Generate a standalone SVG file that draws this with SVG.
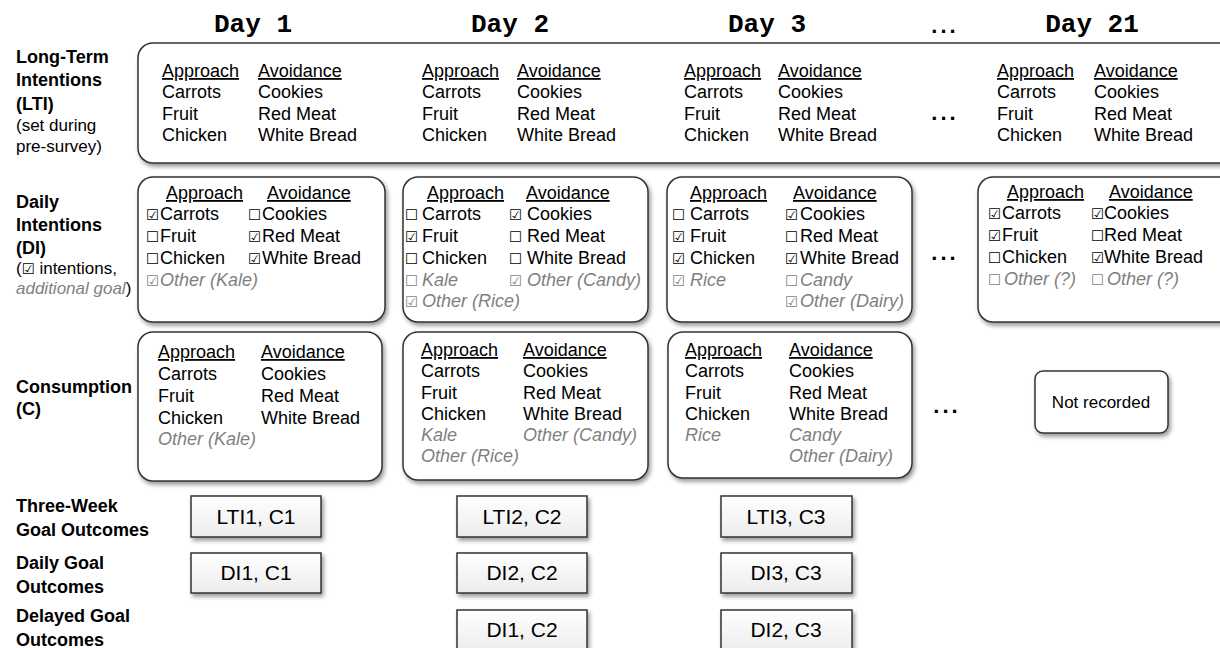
<svg xmlns="http://www.w3.org/2000/svg" width="1220" height="648" viewBox="0 0 1220 648">
<style>
text{font-family:"Liberation Sans",Arial,sans-serif;font-size:18px;fill:#000}
.u{text-decoration:underline}
.g{fill:#7f7f7f;font-style:italic}
.cb{font-family:"DejaVu Sans",sans-serif;font-size:14.5px}
.cbg{font-family:"DejaVu Sans",sans-serif;font-size:14.5px;fill:#7f7f7f}
.lab{font-weight:bold;font-size:18px}
.sm{font-size:17px}
.day{font-family:"Liberation Mono","Courier New",monospace;font-weight:bold;font-size:26px}
.dots{font-weight:bold;font-size:22px;letter-spacing:3px}
.out{font-size:21px}
.nr{font-size:17px}
.box{fill:#fff;stroke:#333;stroke-width:1.5;filter:url(#sh)}
.ob{fill:url(#gr);stroke:#333;stroke-width:1.5;filter:url(#sh)}
</style>
<defs>
<filter id="sh" x="-10%" y="-10%" width="130%" height="130%">
<feDropShadow dx="2" dy="3" stdDeviation="2" flood-color="#000" flood-opacity="0.4"/>
</filter>
<linearGradient id="gr" x1="0" y1="0" x2="0" y2="1">
<stop offset="0" stop-color="#ffffff"/>
<stop offset="1" stop-color="#ececec"/>
</linearGradient>
</defs>
<rect width="1220" height="648" fill="#fff"/>

<g id="headers">
<text class="day" x="253" y="32" text-anchor="middle">Day 1</text>
<text class="day" x="510" y="32" text-anchor="middle">Day 2</text>
<text class="day" x="767" y="32" text-anchor="middle">Day 3</text>
<text class="dots" x="945" y="33" text-anchor="middle">...</text>
<text class="day" x="1092" y="32" text-anchor="middle">Day 21</text>
</g>

<g id="row-labels">
<text class="lab" x="16" y="63">Long-Term</text>
<text class="lab" x="16" y="86">Intentions</text>
<text class="lab" x="16" y="110">(LTI)</text>
<text class="sm" x="16" y="131">(set during</text>
<text class="sm" x="16" y="152">pre-survey)</text>
<text class="lab" x="16" y="208">Daily</text>
<text class="lab" x="16" y="231">Intentions</text>
<text class="lab" x="16" y="254">(DI)</text>
<text class="sm" x="16" y="274">(<tspan class="cb">☑</tspan> intentions,</text>
<text class="sm" x="16" y="294"><tspan class="g">additional goal</tspan>)</text>
<text class="lab" x="16" y="393">Consumption</text>
<text class="lab" x="16" y="415">(C)</text>
<text class="lab" x="16" y="512">Three-Week</text>
<text class="lab" x="16" y="536">Goal Outcomes</text>
<text class="lab" x="16" y="569">Daily Goal</text>
<text class="lab" x="16" y="593">Outcomes</text>
<text class="lab" x="16" y="622">Delayed Goal</text>
<text class="lab" x="16" y="646">Outcomes</text>
</g>

<g id="lti">
<rect class="box" x="138" y="43" width="1100" height="120" rx="15"/>
<text class="u" x="162" y="77">Approach</text><text class="u" x="258" y="77">Avoidance</text>
<text x="162" y="98">Carrots</text><text x="258" y="98">Cookies</text>
<text x="162" y="120">Fruit</text><text x="258" y="120">Red Meat</text>
<text x="162" y="141">Chicken</text><text x="258" y="141">White Bread</text>
<text class="u" x="422" y="77">Approach</text><text class="u" x="517" y="77">Avoidance</text>
<text x="422" y="98">Carrots</text><text x="517" y="98">Cookies</text>
<text x="422" y="120">Fruit</text><text x="517" y="120">Red Meat</text>
<text x="422" y="141">Chicken</text><text x="517" y="141">White Bread</text>
<text class="u" x="684" y="77">Approach</text><text class="u" x="778" y="77">Avoidance</text>
<text x="684" y="98">Carrots</text><text x="778" y="98">Cookies</text>
<text x="684" y="120">Fruit</text><text x="778" y="120">Red Meat</text>
<text x="684" y="141">Chicken</text><text x="778" y="141">White Bread</text>
<text class="dots" x="945" y="120" text-anchor="middle">...</text>
<text class="u" x="997" y="77">Approach</text><text class="u" x="1094" y="77">Avoidance</text>
<text x="997" y="98">Carrots</text><text x="1094" y="98">Cookies</text>
<text x="997" y="120">Fruit</text><text x="1094" y="120">Red Meat</text>
<text x="997" y="141">Chicken</text><text x="1094" y="141">White Bread</text>
</g>

<g id="di-day1">
<rect class="box" x="138" y="177" width="247" height="145" rx="15"/>
<text class="u" x="166" y="199">Approach</text><text class="u" x="267" y="199">Avoidance</text>
<text class="cb" x="146" y="220">☑</text><text x="160" y="220">Carrots</text>
<text class="cb" x="248" y="220">☐</text><text x="262" y="220">Cookies</text>
<text class="cb" x="146" y="242">☐</text><text x="160" y="242">Fruit</text>
<text class="cb" x="248" y="242">☑</text><text x="262" y="242">Red Meat</text>
<text class="cb" x="146" y="264">☐</text><text x="160" y="264">Chicken</text>
<text class="cb" x="248" y="264">☑</text><text x="262" y="264">White Bread</text>
<text class="cbg" x="146" y="286">☑</text><text class="g" x="160" y="286">Other (Kale)</text>
</g>

<g id="di-day2">
<rect class="box" x="403" y="177" width="245" height="145" rx="15"/>
<text class="u" x="427" y="199">Approach</text><text class="u" x="526" y="199">Avoidance</text>
<text class="cb" x="405" y="220">☐</text><text x="422" y="220">Carrots</text>
<text class="cb" x="509" y="220">☑</text><text x="527" y="220">Cookies</text>
<text class="cb" x="405" y="242">☑</text><text x="422" y="242">Fruit</text>
<text class="cb" x="509" y="242">☐</text><text x="527" y="242">Red Meat</text>
<text class="cb" x="405" y="264">☐</text><text x="422" y="264">Chicken</text>
<text class="cb" x="509" y="264">☐</text><text x="527" y="264">White Bread</text>
<text class="cbg" x="405" y="286">☐</text><text class="g" x="422" y="286">Kale</text>
<text class="cbg" x="509" y="286">☑</text><text class="g" x="527" y="286">Other (Candy)</text>
<text class="cbg" x="405" y="307">☑</text><text class="g" x="422" y="307">Other (Rice)</text>
</g>

<g id="di-day3">
<rect class="box" x="667" y="177" width="245" height="145" rx="15"/>
<text class="u" x="690" y="199">Approach</text><text class="u" x="793" y="199">Avoidance</text>
<text class="cb" x="672" y="220">☐</text><text x="690" y="220">Carrots</text>
<text class="cb" x="785" y="220">☑</text><text x="800" y="220">Cookies</text>
<text class="cb" x="672" y="242">☑</text><text x="690" y="242">Fruit</text>
<text class="cb" x="785" y="242">☐</text><text x="800" y="242">Red Meat</text>
<text class="cb" x="672" y="264">☑</text><text x="690" y="264">Chicken</text>
<text class="cb" x="785" y="264">☑</text><text x="800" y="264">White Bread</text>
<text class="cbg" x="672" y="286">☑</text><text class="g" x="690" y="286">Rice</text>
<text class="cbg" x="785" y="286">☐</text><text class="g" x="800" y="286">Candy</text>
<text class="cbg" x="785" y="307">☑</text><text class="g" x="800" y="307">Other (Dairy)</text>
</g>

<g id="di-dots"><text class="dots" x="945" y="260" text-anchor="middle">...</text></g>

<g id="di-day21">
<rect class="box" x="978" y="177" width="260" height="145" rx="15"/>
<text class="u" x="1007" y="198">Approach</text><text class="u" x="1109" y="198">Avoidance</text>
<text class="cb" x="988" y="219">☑</text><text x="1002" y="219">Carrots</text>
<text class="cb" x="1091" y="219">☑</text><text x="1104" y="219">Cookies</text>
<text class="cb" x="988" y="241">☑</text><text x="1002" y="241">Fruit</text>
<text class="cb" x="1091" y="241">☐</text><text x="1104" y="241">Red Meat</text>
<text class="cb" x="988" y="263">☐</text><text x="1002" y="263">Chicken</text>
<text class="cb" x="1091" y="263">☑</text><text x="1104" y="263">White Bread</text>
<text class="cbg" x="988" y="285">☐</text><text class="g" x="1004" y="285">Other (?)</text>
<text class="cbg" x="1091" y="285">☐</text><text class="g" x="1107" y="285">Other (?)</text>
</g>

<g id="c-day1">
<rect class="box" x="138" y="332" width="244" height="149" rx="15"/>
<text class="u" x="158" y="358">Approach</text><text class="u" x="261" y="358">Avoidance</text>
<text x="158" y="380">Carrots</text><text x="261" y="380">Cookies</text>
<text x="158" y="402">Fruit</text><text x="261" y="402">Red Meat</text>
<text x="158" y="424">Chicken</text><text x="261" y="424">White Bread</text>
<text class="g" x="158" y="445">Other (Kale)</text>
</g>

<g id="c-day2">
<rect class="box" x="403" y="332" width="245" height="148" rx="15"/>
<text class="u" x="421" y="356">Approach</text><text class="u" x="523" y="356">Avoidance</text>
<text x="421" y="377">Carrots</text><text x="523" y="377">Cookies</text>
<text x="421" y="399">Fruit</text><text x="523" y="399">Red Meat</text>
<text x="421" y="420">Chicken</text><text x="523" y="420">White Bread</text>
<text class="g" x="421" y="441">Kale</text><text class="g" x="523" y="441">Other (Candy)</text>
<text class="g" x="421" y="462">Other (Rice)</text>
</g>

<g id="c-day3">
<rect class="box" x="668" y="332" width="244" height="146" rx="15"/>
<text class="u" x="685" y="356">Approach</text><text class="u" x="789" y="356">Avoidance</text>
<text x="685" y="377">Carrots</text><text x="789" y="377">Cookies</text>
<text x="685" y="399">Fruit</text><text x="789" y="399">Red Meat</text>
<text x="685" y="420">Chicken</text><text x="789" y="420">White Bread</text>
<text class="g" x="685" y="441">Rice</text><text class="g" x="789" y="441">Candy</text>
<text class="g" x="789" y="462">Other (Dairy)</text>
</g>

<g id="c-dots"><text class="dots" x="947" y="413" text-anchor="middle">...</text></g>

<g id="c-day21">
<rect class="box" x="1035" y="371" width="133" height="62" rx="8"/>
<text class="nr" x="1101" y="408" text-anchor="middle">Not recorded</text>
</g>

<g id="outcomes-day1">
<rect class="ob" x="191" y="496" width="130" height="41"/>
<text class="out" x="256" y="524" text-anchor="middle">LTI1, C1</text>
<rect class="ob" x="191" y="553" width="130" height="40"/>
<text class="out" x="256" y="580" text-anchor="middle">DI1, C1</text>
</g>

<g id="outcomes-day2">
<rect class="ob" x="457" y="496" width="130" height="41"/>
<text class="out" x="522" y="524" text-anchor="middle">LTI2, C2</text>
<rect class="ob" x="457" y="553" width="130" height="40"/>
<text class="out" x="522" y="580" text-anchor="middle">DI2, C2</text>
<rect class="ob" x="457" y="610" width="130" height="42"/>
<text class="out" x="522" y="637" text-anchor="middle">DI1, C2</text>
</g>

<g id="outcomes-day3">
<rect class="ob" x="721" y="496" width="131" height="41"/>
<text class="out" x="786" y="524" text-anchor="middle">LTI3, C3</text>
<rect class="ob" x="721" y="553" width="131" height="40"/>
<text class="out" x="786" y="580" text-anchor="middle">DI3, C3</text>
<rect class="ob" x="721" y="610" width="131" height="42"/>
<text class="out" x="786" y="637" text-anchor="middle">DI2, C3</text>
</g>

<g id="connectors"/>
</svg>
